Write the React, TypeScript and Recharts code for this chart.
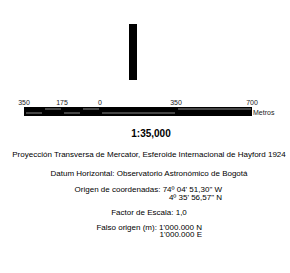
import React from 'react';
import { ComposedChart, XAxis, YAxis, ReferenceArea } from 'recharts';

// scale bar segments (metres), left part subdivided
const segStart = [-350, -262.5, -175, -87.5, 0, 350];
const segEnd = [-262.5, -175, -87.5, 0, 350, 700];
// which half of the bar carries the light stripe
const segRow = ['bottom', 'top', 'bottom', 'top', 'bottom', 'top'];
const scaleTicks = [-350, -175, 0, 350, 700];

const infoLines = [
  'Proyección Transversa de Mercator, Esferoide Internacional de Hayford 1924',
  'Datum Horizontal: Observatorio Astronómico de Bogotá',
];
const origenLines = ['Origen de coordenadas: 74º 04\' 51,30" W', '4º 35\' 56,57" N'];
const factorLine = 'Factor de Escala: 1,0';
const falsoLines = ["Falso origen (m): 1'000.000 N", "1'000.000 E"];

const FONT = '"Liberation Sans", Arial, sans-serif';

const Stripe = (props: any) => {
  const { x, y, width, height } = props;
  return <rect x={x + 2} y={y} width={Math.max(width - 3, 0)} height={height} fill="#8a8a8a" />;
};

function ScaleBar() {
  return (
    <ComposedChart
      width={290}
      height={19}
      data={[{ x: 0 }]}
      margin={{ top: 0, right: 38, bottom: 0, left: 24 }}
    >
      <XAxis
        type="number"
        dataKey="x"
        orientation="top"
        domain={[-350, 700]}
        ticks={scaleTicks}
        tickFormatter={(v: number) => String(Math.abs(v))}
        axisLine={false}
        tickLine={false}
        tickSize={0}
        tickMargin={2}
        height={10}
        interval={0}
        tick={{ fontSize: 7, fill: '#222', fontFamily: FONT }}
        allowDataOverflow
      />
      <YAxis type="number" domain={[0, 9]} hide allowDataOverflow />
      <ReferenceArea x1={-350} x2={700} y1={0} y2={9} fill="#000" fillOpacity={1} ifOverflow="visible" />
      {segStart.map((s, i) => {
        const top = segRow[i] === 'top';
        return (
          <ReferenceArea
            key={i}
            x1={s}
            x2={segEnd[i]}
            y1={top ? 6.5 : 2.5}
            y2={top ? 7.5 : 3.5}
            ifOverflow="visible"
            shape={<Stripe />}
          />
        );
      })}
    </ComposedChart>
  );
}

export default function App() {
  const line = (text: string, top: number, extra: React.CSSProperties = {}) => (
    <div
      style={{
        position: 'absolute',
        top,
        left: 4,
        width: 290,
        textAlign: 'center',
        fontSize: 8,
        lineHeight: '9px',
        whiteSpace: 'nowrap',
        ...extra,
      }}
    >
      {text}
    </div>
  );
  const block: React.CSSProperties = {
    position: 'absolute',
    textAlign: 'right',
    fontSize: 8,
    lineHeight: '7.7px',
    whiteSpace: 'nowrap',
  };
  return (
    <div
      style={{
        position: 'absolute',
        top: 0,
        left: 0,
        width: 290,
        height: 273,
        background: '#fff',
        fontFamily: FONT,
        color: '#000',
        overflow: 'hidden',
      }}
    >
      <div style={{ position: 'absolute', left: 129, top: 24, width: 8, height: 56, background: '#000' }} />
      <div style={{ position: 'absolute', left: 0, top: 97 }}>
        <ScaleBar />
      </div>
      <div style={{ position: 'absolute', left: 253, top: 109, fontSize: 7, lineHeight: '8px', color: '#222' }}>
        Metros
      </div>
      {line('1:35,000', 128, { fontSize: 10, fontWeight: 'bold', lineHeight: '12px', left: 6 })}
      {line(infoLines[0], 149.5)}
      {line(infoLines[1], 169)}
      <div style={{ ...block, top: 186, right: 68 }}>
        {origenLines[0]}
        <br />
        {origenLines[1]}
      </div>
      {line(factorLine, 208)}
      <div style={{ ...block, top: 223.5, right: 88 }}>
        {falsoLines[0]}
        <br />
        {falsoLines[1]}
      </div>
    </div>
  );
}
